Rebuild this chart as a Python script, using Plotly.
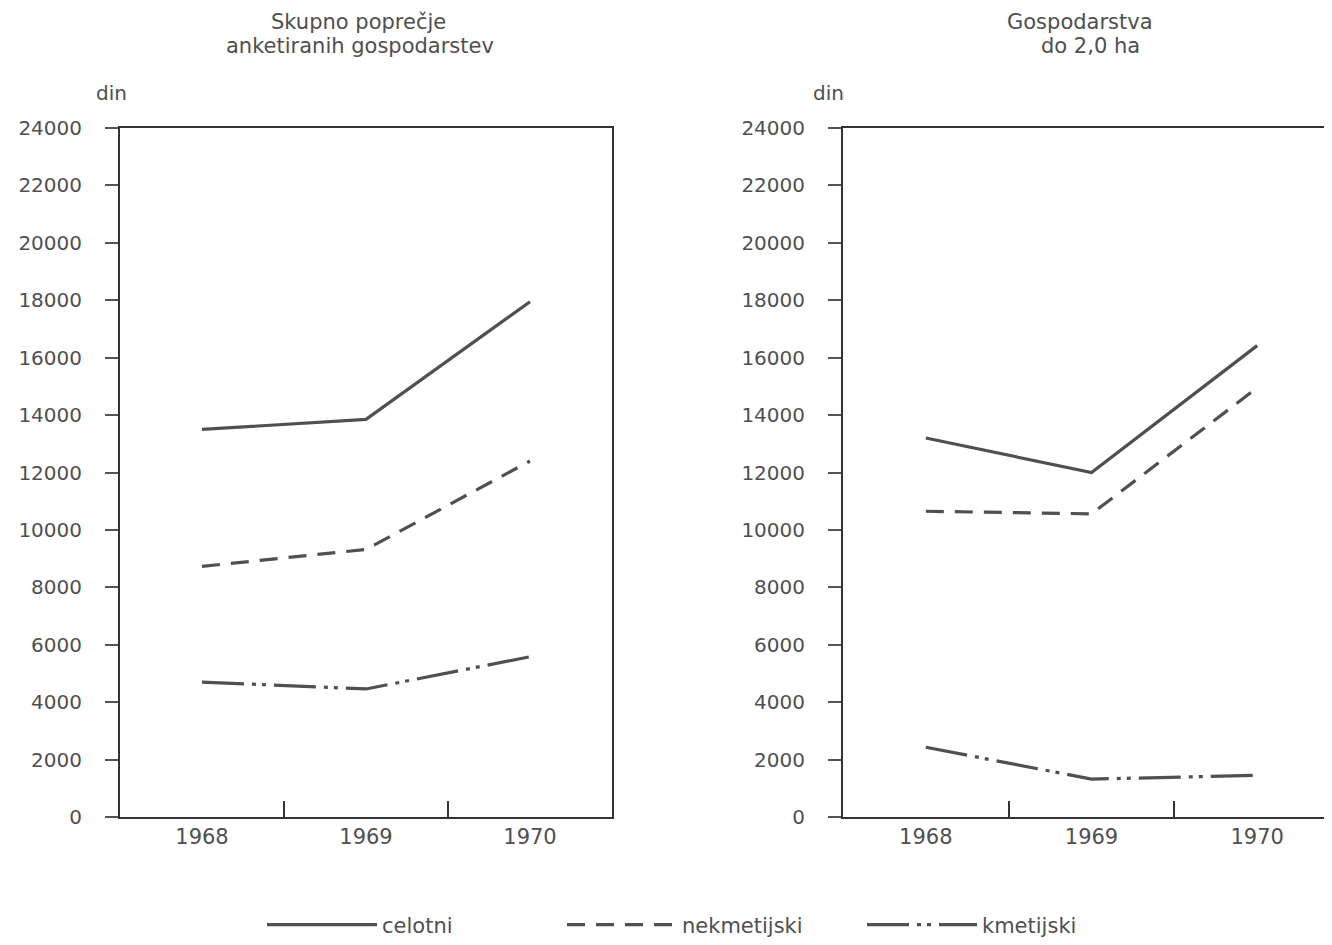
import plotly.graph_objects as go

years = ["1968", "1969", "1970"]
y_ticks = [0, 2000, 4000, 6000, 8000, 10000, 12000, 14000, 16000, 18000, 20000, 22000, 24000]

series_names = ["celotni", "nekmetijski", "kmetijski"]

# Panel 1: Skupno poprečje anketiranih gospodarstev
left_celotni = [13500, 13850, 17950]
left_nekmetijski = [8730, 9320, 12400]
left_kmetijski = [4700, 4460, 5580]

# Panel 2: Gospodarstva do 2,0 ha
right_celotni = [13200, 12000, 16420]
right_nekmetijski = [10650, 10560, 14950]
right_kmetijski = [2430, 1320, 1450]

W, H = 1332, 945
OFF = 8  # page body margin
FONT = "'DejaVu Sans', sans-serif"
TXT = "#4f4f4f"
LINE = "#505050"

dashes = ["solid", "18px,11px", "42px,8px,4px,6px,4px,8px"]

fig = go.Figure()

def add_panel(vals_list, xa, ya, show):
    for name, vals, d in zip(series_names, vals_list, dashes):
        fig.add_trace(go.Scatter(
            x=years, y=vals, mode="lines", name=name,
            line=dict(color=LINE, width=3.2, dash=d),
            xaxis=xa, yaxis=ya, showlegend=show,
        ))

add_panel([left_celotni, left_nekmetijski, left_kmetijski], "x", "y", True)
add_panel([right_celotni, right_nekmetijski, right_kmetijski], "x2", "y2", False)

def px(x):
    return (x - OFF) / W

def py(y):
    return 1 - (y - OFF) / H

ydom = [py(817), py(128)]

xcommon = dict(
    type="category", tickson="boundaries", ticks="inside", ticklen=16,
    tickwidth=2, tickcolor="#333", showline=True, linecolor="#333", linewidth=2,
    showgrid=False, zeroline=False, automargin=False,
    tickfont=dict(family=FONT, size=21, color=TXT),
)
ycommon = dict(
    range=[0, 24000], tickvals=y_ticks, ticktext=[str(v) for v in y_ticks],
    ticks="outside", ticklen=13, tickwidth=1.5, tickcolor="#555",
    showline=True, linecolor="#333", linewidth=2, showgrid=False, zeroline=False,
    automargin=False,
    tickfont=dict(family=FONT, size=20, color=TXT), ticklabelstandoff=19,
)

fig.update_layout(
    width=W, height=H,
    margin=dict(l=0, r=0, t=0, b=0, autoexpand=False),
    paper_bgcolor="white", plot_bgcolor="white",
    xaxis=dict(domain=[px(120), px(612)], range=[-0.5, 2.5], mirror=True, anchor="y", **xcommon),
    yaxis=dict(domain=ydom, mirror=True, anchor="x", **ycommon),
    xaxis2=dict(domain=[px(843), 1.0], range=[-0.5, 2.5], mirror=True, anchor="y2", **xcommon),
    yaxis2=dict(domain=ydom, mirror=False, anchor="x2", **ycommon),
    legend=dict(
        orientation="h", x=px(262), xanchor="left", y=py(925), yanchor="middle",
        font=dict(family=FONT, size=21, color=TXT), entrywidth=175, itemwidth=110,
        bgcolor="rgba(0,0,0,0)",
    ),
    showlegend=True,
)

def ann(text, x, y, size=21):
    fig.add_annotation(
        text=text, x=px(x), y=py(y), xref="paper", yref="paper",
        showarrow=False, xanchor="center", yanchor="middle",
        font=dict(family=FONT, size=size, color=TXT),
    )

ann("Skupno poprečje", 358, 22)
ann("anketiranih gospodarstev", 360, 46)
ann("Gospodarstva", 1080, 22)
ann("do 2,0 ha", 1090, 46)
ann("din", 111, 93, 20)
ann("din", 828, 93, 20)

fig.write_html("out.html")
